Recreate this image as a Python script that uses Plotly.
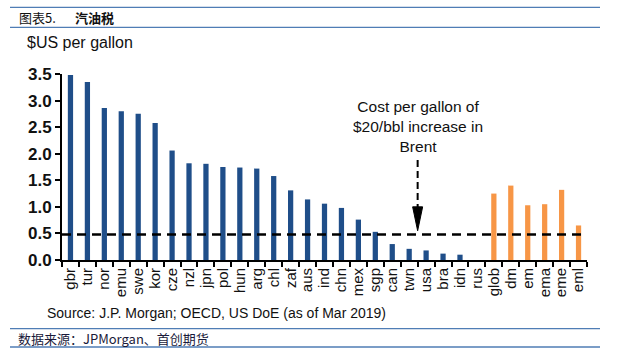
import plotly.graph_objects as go

# ---- data ----
categories = ["gbr", "tur", "nor", "emu", "swe", "kor", "cze", "nzl", "jpn", "pol",
              "hun", "arg", "chl", "zaf", "aus", "ind", "chn", "mex", "sgp", "can",
              "twn", "usa", "bra", "idn", "rus", "glob", "dm", "em", "ema", "eme", "eml"]
tax_values = [3.48, 3.35, 2.86, 2.80, 2.75, 2.58, 2.06, 1.82, 1.81, 1.75,
              1.74, 1.72, 1.58, 1.31, 1.14, 1.06, 0.98, 0.76, 0.53, 0.30,
              0.21, 0.18, 0.12, 0.10, 0.0, 1.25, 1.40, 1.03, 1.05, 1.32, 0.65]
aggregates = ["glob", "dm", "em", "ema", "eme", "eml"]
brent_cost = 0.48          # cost per gallon of $20/bbl increase in Brent
y_ticks = [0.0, 0.5, 1.0, 1.5, 2.0, 2.5, 3.0, 3.5]

BLUE = "#1F4E89"
ORANGE = "#F79646"
colors = [ORANGE if c in aggregates else BLUE for c in categories]

# ---- layout geometry (pixels) ----
WIDTH, HEIGHT = 626, 354
L, R, T, B = 62, 587, 74, 260
PW, PH = R - L, B - T
YMAX = 3.5
N = len(categories)


def px(xp):
    return (xp - L) / PW


def py(yp):
    return (B - yp) / PH


def cx(i):  # category index -> paper x
    return (i + 0.5) / N


def cy(v):  # data y -> paper y
    return v / YMAX


fig = go.Figure()
fig.add_trace(go.Bar(x=categories, y=tax_values, marker=dict(color=colors, line=dict(width=0)),
                     showlegend=False))

font = "Liberation Sans, Arial, sans-serif"
cjk = "Noto Sans CJK SC"

# arrow position: boundary between twn and usa
arrow_i = categories.index("twn") + 0.5
ax_p = cx(arrow_i)
tip, base, top = brent_cost + 0.07, 1.0, 1.88

shapes = [
    # Brent cost dashed line
    dict(type="line", xref="paper", yref="y", x0=0, x1=1, y0=brent_cost, y1=brent_cost,
         line=dict(color="black", width=2.5, dash="9px,6px")),
    # arrow shaft
    dict(type="line", xref="paper", yref="y", x0=ax_p, x1=ax_p, y0=top, y1=base - 0.05,
         line=dict(color="black", width=2, dash="7px,4px")),
    # arrow head
    dict(type="path", xref="paper", yref="paper",
         path=f"M {ax_p - 5/PW},{cy(base)} L {ax_p + 5/PW},{cy(base)} L {ax_p},{cy(tip)} Z",
         fillcolor="black", line=dict(color="black", width=1)),
]
# header / footer rules
for yp in [7.3, 27.3, 328.7, 347]:
    shapes.append(dict(type="line", xref="paper", yref="paper", x0=px(10), x1=px(600),
                       y0=py(yp), y1=py(yp), line=dict(color="#4F7DB5", width=1.3)))

annotations = [
    dict(text="图表5.", x=px(17), y=py(17.5), xref="paper", yref="paper", xanchor="left",
         yanchor="middle", showarrow=False, font=dict(family=cjk, size=13, color="#111")),
    dict(text="<b>汽油税</b>", x=px(73), y=py(17.5), xref="paper", yref="paper", xanchor="left",
         yanchor="middle", showarrow=False, font=dict(family=cjk, size=13, color="#111")),
    dict(text="$US per gallon", x=px(25), y=py(43), xref="paper", yref="paper", xanchor="left",
         yanchor="middle", showarrow=False, font=dict(family=font, size=16, color="#111")),
    dict(text="Cost per gallon of<br>$20/bbl increase in<br>Brent", x=ax_p, y=py(126),
         xref="paper", yref="paper", xanchor="center", yanchor="middle", showarrow=False,
         font=dict(family=font, size=15.5, color="#111")),
    dict(text="Source: J.P. Morgan; OECD, US DoE (as of Mar 2019)", x=px(45), y=py(313),
         xref="paper", yref="paper", xanchor="left", yanchor="middle", showarrow=False,
         font=dict(family=font, size=14, color="#111")),
    dict(text="数据来源：JPMorgan、首创期货", x=px(16), y=py(338), xref="paper", yref="paper",
         xanchor="left", yanchor="middle", showarrow=False,
         font=dict(family=cjk, size=13, color="#1a1a3a")),
]

fig.update_layout(
    width=WIDTH, height=HEIGHT,
    margin=dict(l=L, r=WIDTH - R, t=T, b=HEIGHT - B, pad=0),
    paper_bgcolor="white", plot_bgcolor="white",
    bargap=0.69,
    shapes=shapes, annotations=annotations,
    xaxis=dict(type="category", range=[-0.5, N - 0.5], showgrid=False, showline=True,
               linecolor="black", linewidth=2, ticks="outside", tickson="boundaries",
               tickmode="array", tickvals=categories, ticktext=categories,
               ticklen=5, tickwidth=2, tickcolor="black", tickangle=-90,
               tickfont=dict(family=font, size=15, color="#111"), zeroline=False),
    yaxis=dict(range=[0, YMAX], tickvals=y_ticks, ticktext=[f"<b>{v:.1f}</b>" for v in y_ticks],
               showgrid=False, showline=True, linecolor="black", linewidth=2,
               ticks="outside", ticklen=5, tickwidth=2, tickcolor="black",
               tickfont=dict(family=font, size=17, color="#111"), zeroline=False),
)

fig.write_html("out.html")
